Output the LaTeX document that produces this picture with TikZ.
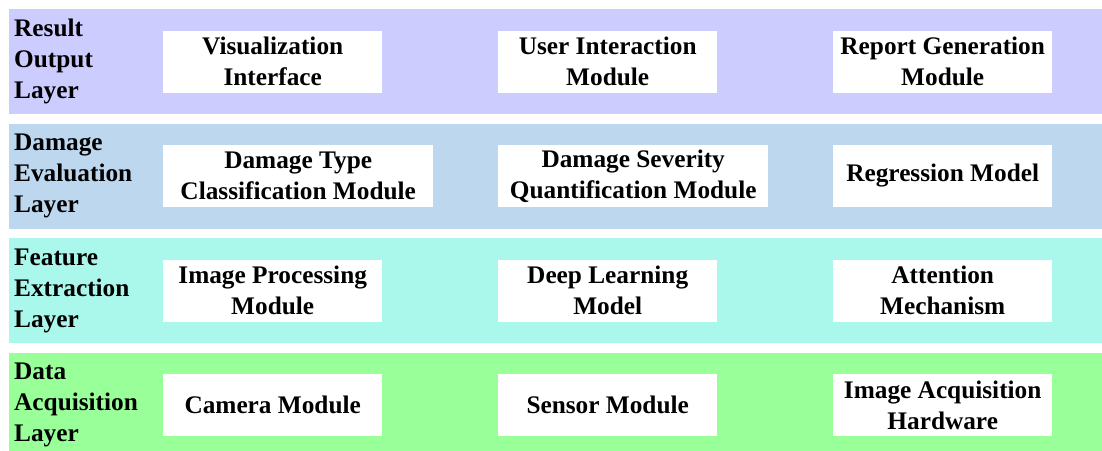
\documentclass[tikz,border=0pt]{standalone}
\usepackage{fontspec}
\setmainfont{Liberation Serif}
\definecolor{outputbg}{HTML}{CCCCFF}
\definecolor{evalbg}{HTML}{BDD7EE}
\definecolor{featbg}{HTML}{AAF7EB}
\definecolor{acqbg}{HTML}{99FF99}
\begin{document}
\begin{tikzpicture}[x=1pt,y=-1pt,
  layerband/.style={inner sep=0pt, minimum width=1093pt, minimum height=105pt, anchor=north west},
  layername/.style={anchor=west, inner sep=0pt, align=left,
    font=\fontsize{25.3}{31}\selectfont\bfseries},
  modbox/.style={fill=white, anchor=west, inner xsep=5pt, inner ysep=0pt,
    minimum width=219pt, minimum height=62pt, align=center,
    font=\fontsize{25.3}{31}\selectfont\bfseries},
  widebox/.style={modbox, minimum width=270pt}]
\useasboundingbox (0,0) rectangle (1102,450);
\clip (0,0) rectangle (1102,450);

% layer bands
\node[layerband, fill=outputbg] (L1) at (9,9) {};
\node[layerband, fill=evalbg]   (L2) at (9,123.5) {};
\node[layerband, fill=featbg]   (L3) at (9,238) {};
\node[layerband, fill=acqbg]    (L4) at (9,352.5) {};

% layer names
\node[layername] (n1) at (14,61.5) {Result\\Output\\Layer};
\node[layername] (n2) at (14,176) {Damage\\Evaluation\\Layer};
\node[layername] (n3) at (14,290.5) {Feature\\Extraction\\Layer};
\node[layername] (n4) at (14,405) {Data\\Acquisition\\Layer};

% result output layer
\node[modbox] (vis) at (163,61.5) {Visualization\\Interface};
\node[modbox] (uim) at (498,61.5) {User Interaction\\Module};
\node[modbox] (rgm) at (833,61.5) {Report Generation\\Module};

% damage evaluation layer
\node[widebox] (dtc) at (163,176) {Damage Type\\Classification Module};
\node[widebox] (dsq) at (498,176) {Damage Severity\\Quantification Module};
\node[modbox] (reg) at (833,176) {Regression Model};

% feature extraction layer
\node[modbox] (ipm) at (163,290.5) {Image Processing\\Module};
\node[modbox] (dlm) at (498,290.5) {Deep Learning\\Model};
\node[modbox] (att) at (833,290.5) {Attention\\Mechanism};

% data acquisition layer
\node[modbox] (cam) at (163,405) {Camera Module};
\node[modbox] (sen) at (498,405) {Sensor Module};
\node[modbox] (iah) at (833,405) {Image Acquisition\\Hardware};
\end{tikzpicture}
\end{document}
